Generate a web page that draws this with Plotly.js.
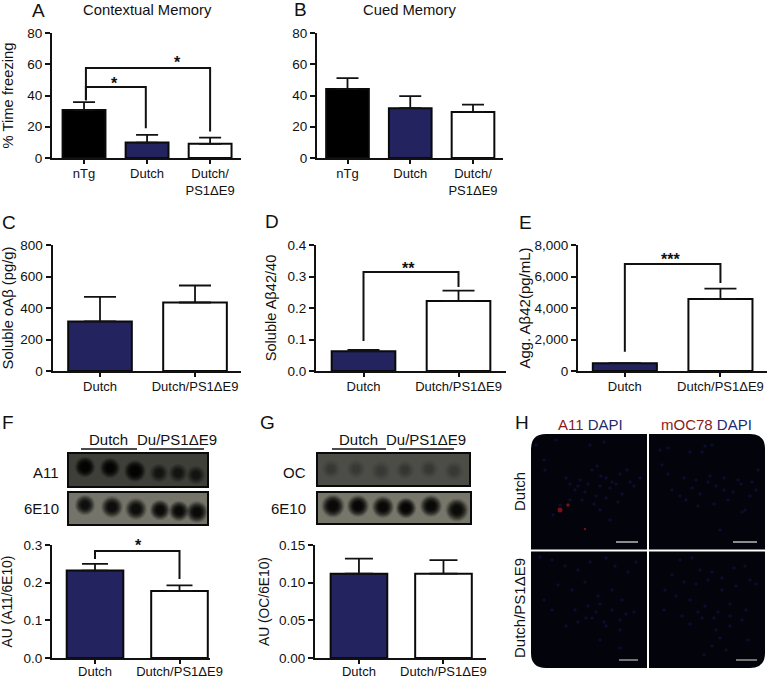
<!DOCTYPE html>
<html><head><meta charset="utf-8">
<script src="https://cdn.plot.ly/plotly-3.0.1.min.js"></script>
<style>html,body{margin:0;padding:0;background:#fff}#g{width:769px;height:679px}</style>
</head><body><div id="g"></div>
<script>
// ---- data ----
const groupsThree = ["nTg","Dutch","Dutch/<br>PS1ΔE9"];
const groupsTwo = ["Dutch","Dutch/PS1ΔE9"];
const contextual = [30.7,9.9,9.1];   const contextualErr = [5.0,4.9,4.0];
const cued = [44.2,31.9,29.5];       const cuedErr = [6.9,7.7,4.7];
const solubleOA = [315,435];         const solubleOAErr = [155,108];
const ratio4240 = [0.063,0.222];     const ratio4240Err = [0.004,0.033];
const aggA42 = [495,4570];           const aggA42Err = [10,655];
const a11 = [0.232,0.178];           const a11Err = [0.018,0.015];
const oc = [0.112,0.112];            const ocErr = [0.020,0.018];
const colorsThree = ["#000000","#23235f","#ffffff"];
const colorsTwo = ["#23235f","#ffffff"];
// significance brackets [x...],[y...] in data units
const bracketA1x = [0.03,0.03,0.98,0.98]; const bracketA1y = [37,45.4,45.4,19];
const bracketA2x = [0.03,0.03,2,2];       const bracketA2y = [37,57.6,57.6,17];
const bracketDx = [0,0,1,1];  const bracketDy = [0.095,0.314,0.314,0.267];
const bracketEx = [0,0,1,1];  const bracketEy = [1220,6790,6790,5590];
const bracketFx = [0,0,1,1];  const bracketFy = [0.263,0.284,0.284,0.21];
// dot-blot spots (image pixels): x, y, diameter, darkness
const blotF1 = {x:[85,110,135,159,178,196],y:[467,468,471,473,473,475],s:[16,16,17,15,15,15],o:[1,.9,1,.45,.45,.45]};
const blotF2 = {x:[85,112,136,160,179,197],y:[505,507,509,510,511,512],s:[16,17,17,16,16,17],o:[.75,.8,.8,.85,.85,.85]};
const blotG1 = {x:[331,356,381,405,429,454],y:[469,469,471,470,469,471],s:[15,15,16,15,15,16],o:[.13,.12,.12,.15,.13,.12]};
const blotG2 = {x:[333,358,383,406,431,457],y:[506,506,507,508,506,510],s:[18,17,17,16,17,18],o:[.9,.95,.9,1,.9,.85]};
// microscopy specks (image pixels)
const dapiX = [566,580,592,597,601,606,612,620,627,575,585,596,610,622,634,640,560,570,553,545,
  672,680,692,700,708,716,724,733,741,750,660,668,690,712,702,705,758,720,745,
  540,552,565,578,590,606,615,628,636,558,572,585,598,612,622,586,596,604,620,
  680,692,700,712,722,734,745,756,665,676,690,705,718,730,742,690,702,716,730,748,712,720,
  570,578,588,600,616,630,582,594,606,618,600,610,536,544,556,590,604,
  684,696,710,724,738,752,686,698,714,728,742,668,662,756,
  575,588,600,612,626,566,578,592,606,620,634,544,552,600,620,
  672,684,696,708,722,736,750,664,682,698,714,730,746,704,726];
const dapiY = [478,480,470,466,476,478,482,474,470,490,492,496,488,494,486,478,505,500,515,470,
  490,496,488,494,482,486,490,492,484,496,450,448,452,445,452,446,470,530,510,
  557,560,566,570,562,558,566,572,562,585,590,582,596,590,600,618,612,622,630,
  560,558,570,572,578,568,566,584,590,596,600,606,612,604,620,624,618,630,626,640,646,638,
  484,486,484,486,484,482,500,504,498,502,510,520,445,460,440,445,442,
  478,480,476,478,480,482,500,506,504,500,512,474,465,490,
  610,606,604,610,614,626,622,618,626,620,612,600,610,640,648,
  575,582,584,580,590,586,580,610,616,612,618,616,610,655,650];
const redX = [560,568,585]; const redY = [510,505,529]; const redS = [5,3.5,2.5];

// ---- helpers ----
const W=769,H=679, AXC="#111111", FONT="'Liberation Sans',Arial,sans-serif";
const layout = {width:W,height:H,margin:{l:0,r:0,t:0,b:0},paper_bgcolor:"#fff",plot_bgcolor:"rgba(0,0,0,0)",
  showlegend:false,font:{family:FONT,color:"#111",size:13},shapes:[],annotations:[],hovermode:false,bargap:0};
const data = [];
let n=0;
function panel(o){
  n++; const xa=n===1?"xaxis":"xaxis"+n, ya=n===1?"yaxis":"yaxis"+n, xr="x"+(n===1?"":n), yr="y"+(n===1?"":n);
  layout[xa]={domain:[o.px[0]/W,o.px[1]/W],range:o.xr,anchor:yr,tickmode:"array",tickvals:o.cats.map((c,i)=>i),ticktext:o.cats,
    showline:true,linewidth:2,linecolor:AXC,ticks:"outside",ticklen:4,tickwidth:2,tickcolor:AXC,showgrid:false,zeroline:false,
    ticklabelstandoff:o.py[1]>600?-4:-2,tickfont:{family:FONT,size:13,color:"#111"}};
  layout[ya]={domain:[1-o.py[1]/H,1-o.py[0]/H],range:[0,o.ymax],anchor:xr,tickmode:"array",tickvals:o.yt,ticktext:o.yl,
    showline:true,linewidth:2,linecolor:AXC,ticks:"outside",ticklen:5,tickwidth:2,tickcolor:AXC,showgrid:false,zeroline:false,
    tickfont:{family:FONT,size:13.5,color:"#111"},title:{text:o.ytitle,standoff:o.so,font:{family:FONT,size:o.tf,color:"#111"}}};
  data.push({type:"bar",x:o.cats.map((c,i)=>i),y:o.v,width:o.w,xaxis:xr,yaxis:yr,
    marker:{color:o.col,line:{color:"#0a0a0a",width:2}},
    error_y:{type:"data",symmetric:false,array:o.e,arrayminus:o.e.map(()=>0),color:"#111",thickness:1.8,width:o.cap}});
  (o.br||[]).forEach(b=>data.push({type:"scatter",mode:"lines",x:b[0],y:b[1],xaxis:xr,yaxis:yr,line:{color:"#111",width:2}}));
  (o.st||[]).forEach(s=>layout.annotations.push({xref:xr,yref:yr,x:s[0],y:s[1],text:"<b>"+s[2]+"</b>",showarrow:false,font:{family:FONT,size:16,color:"#111"},yanchor:"middle"}));
}
const t80=[0,20,40,60,80], l80=t80.map(String);
panel({px:[52,241],py:[33,158],xr:[-.508,2.49],ymax:80,cats:groupsThree,v:contextual,e:contextualErr,col:colorsThree,w:.68,cap:11,yt:t80,yl:l80,
  ytitle:"% Time freezing",so:14,tf:14.8,br:[[bracketA1x,bracketA1y],[bracketA2x,bracketA2y]],st:[[.49,48,"*"],[1.49,61,"*"]]});
panel({px:[317,503],py:[33,158],xr:[-.486,2.478],ymax:80,cats:groupsThree,v:cued,e:cuedErr,col:colorsThree,w:.68,cap:11,yt:t80,yl:l80,ytitle:"",so:10,tf:14.8});
panel({px:[52.5,241],py:[245,371],xr:[-.5,1.484],ymax:800,cats:groupsTwo,v:solubleOA,e:solubleOAErr,col:colorsTwo,w:.67,cap:16,yt:[0,200,400,600,800],yl:["0","200","400","600","800"],
  ytitle:"Soluble oAβ (pg/g)",so:6,tf:14.8});
panel({px:[316,506],py:[245,371],xr:[-.5,1.5],ymax:.4,cats:groupsTwo,v:ratio4240,e:ratio4240Err,col:colorsTwo,w:.67,cap:16,yt:[0,.1,.2,.3,.4],yl:["0.0","0.1","0.2","0.3","0.4"],
  ytitle:"Soluble Aβ42/40",so:7,tf:14.6,br:[[bracketDx,bracketDy]],st:[[.47,.325,"**"]]});
panel({px:[578,767],py:[245,371],xr:[-.49,1.487],ymax:8000,cats:groupsTwo,v:aggA42,e:aggA42Err,col:colorsTwo,w:.67,cap:16,yt:[0,2000,4000,6000,8000],yl:["0","2,000","4,000","6,000","8,000"],
  ytitle:"Agg. Aβ42(pg/mL)",so:0,tf:15,br:[[bracketEx,bracketEy]],st:[[.48,7110,"***"]]});
panel({px:[52,210],py:[545,658],xr:[-.509,1.361],ymax:.3,cats:groupsTwo,v:a11,e:a11Err,col:colorsTwo,w:.67,cap:13,yt:[0,.1,.2,.3],yl:["0.0","0.1","0.2","0.3"],
  ytitle:"AU (A11/6E10)",so:8,tf:13.8,br:[[bracketFx,bracketFy]]});
panel({px:[315,486],py:[545,658],xr:[-.52,1.503],ymax:.15,cats:groupsTwo,v:oc,e:ocErr,col:colorsTwo,w:.67,cap:14,yt:[0,.05,.1,.15],yl:["0.00","0.05","0.10","0.15"],
  ytitle:"AU (OC/6E10)",so:6,tf:13.8});

// image overlay axes
layout.xaxis8={domain:[0,1],range:[0,W],visible:false,fixedrange:true,anchor:"y8"};
layout.yaxis8={domain:[0,1],range:[H,0],visible:false,fixedrange:true,anchor:"x8"};
function rect(x0,y0,x1,y1,fill,lw){layout.shapes.push({type:"rect",xref:"x8",yref:"y8",x0,y0,x1,y1,fillcolor:fill,line:{color:"#0a0a0a",width:lw},layer:"below"});}
function line(x0,y0,x1,y1,c,w,layer){layout.shapes.push({type:"line",xref:"x8",yref:"y8",x0,y0,x1,y1,line:{color:c,width:w},layer:layer||"above"});}
function blot(b,dark){
  [[1.28,.16],[1.15,.22],[1.02,.3],[.88,.4],[.72,.5],[.52,.6]].forEach(l=>data.push({type:"scatter",mode:"markers",x:b.x,y:b.y,xaxis:"x8",yaxis:"y8",
    marker:{color:dark,size:b.s.map(s=>s*l[0]),opacity:b.o.map(v=>v*l[1]),line:{width:0}}}));
}
rect(68,453,208,487,"#3f3f3a",2); rect(68,492,208,525,"#74746a",2);
rect(317,453,470,486,"#4d4d48",2); rect(317,492,471,524,"#76766a",2);
blot(blotF1,"#000"); blot(blotF2,"#000"); blot(blotG1,"#000"); blot(blotG2,"#000");
line(81,449,137,449,"#111",1.6); line(149,449,204,449,"#111",1.6);
line(332,449,386,449,"#111",1.6); line(399,449,454,449,"#111",1.6);

// microscopy
layout.shapes.push({type:"path",xref:"x8",yref:"y8",layer:"below",fillcolor:"#03030b",line:{width:0},
  path:"M 546 434 L 750 434 Q 765 434 765 449 L 765 653 Q 765 668 750 668 L 546 668 Q 531 668 531 653 L 531 449 Q 531 434 546 434 Z"});
data.push({type:"scatter",mode:"markers",x:dapiX,y:dapiY,xaxis:"x8",yaxis:"y8",marker:{color:"#10154a",size:3.5,opacity:.55,line:{width:0}}});
data.push({type:"scatter",mode:"markers",x:redX,y:redY,xaxis:"x8",yaxis:"y8",marker:{color:"#b3121c",size:redS,line:{width:0}}});
line(648,434,648,668,"#fff",2); line(531,550.5,765,550.5,"#fff",2);
line(616,542,638,542,"#e8e8e8",1.2); line(733,542,757,542,"#e8e8e8",1.2);
line(619,660,638,660,"#999",1.5); line(736,660,757,660,"#999",1.5);

// text
function txt(x,y,t,size,anchor,extra){layout.annotations.push(Object.assign({xref:"x8",yref:"y8",x,y,text:t,showarrow:false,xanchor:anchor||"center",yanchor:"middle",font:{family:FONT,size:size,color:"#111"}},extra||{}));}
[["A",30,10],["B",292,9],["C",0,222],["D",263,221],["E",517,222],["F",0,422],["G",258,422],["H",513,422]].forEach(p=>txt(p[1],p[2],p[0],19,"left"));
txt(147,10,"Contextual Memory",14.8); txt(410,10,"Cued Memory",14.8);
txt(61,472,"A11",15,"right"); txt(61,508,"6E10",15,"right");
txt(308,472,"OC",15,"right"); txt(308,508,"6E10",15,"right");
txt(108,439,"Dutch",15); txt(177,439,"Du/PS1ΔE9",15);
txt(358,439,"Dutch",15); txt(426,439,"Du/PS1ΔE9",15);
txt(138,545,"<b>*</b>",16);
txt(590,424,'<span style="color:#8b1a1a">A11</span> <span style="color:#1f2a6e">DAPI</span>',15);
txt(706,424,'<span style="color:#8b1a1a">mOC78</span> <span style="color:#1f2a6e">DAPI</span>',15);
txt(519,492,"Dutch",15,"center",{textangle:-90});
txt(519,608,"Dutch/PS1ΔE9",15,"center",{textangle:-90});

Plotly.newPlot("g",data,layout,{staticPlot:true,displayModeBar:false});
</script></body></html>
